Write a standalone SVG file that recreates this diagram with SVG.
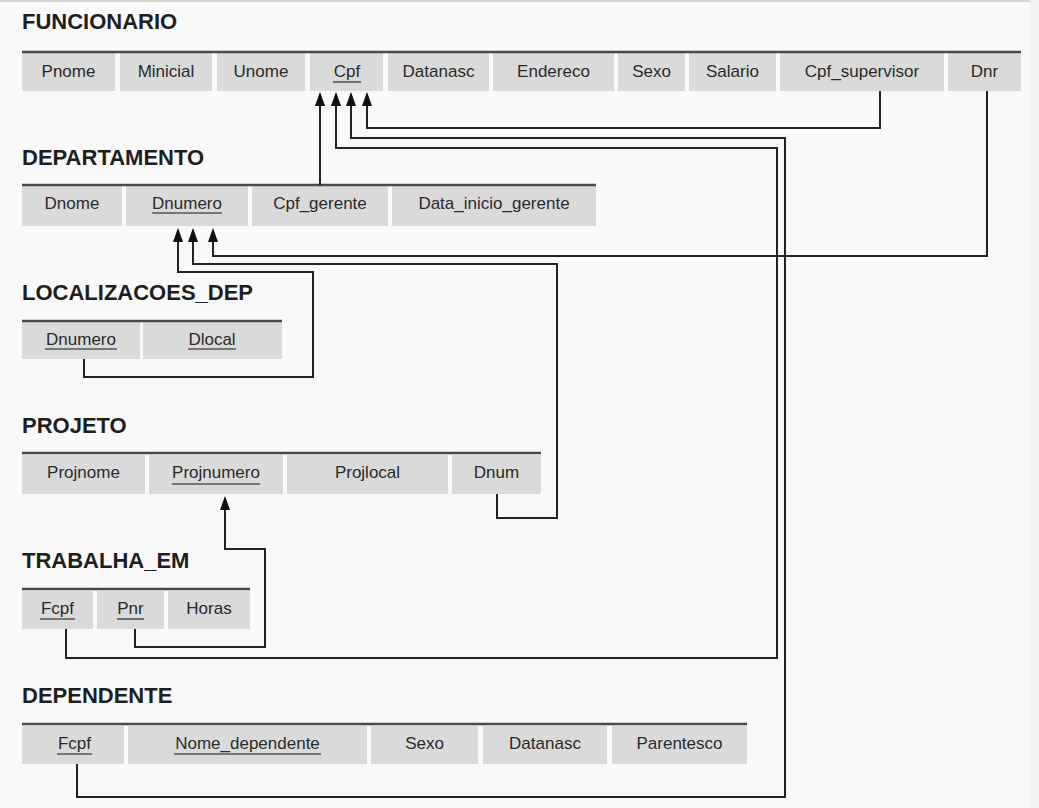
<svg xmlns="http://www.w3.org/2000/svg" width="1039" height="808" viewBox="0 0 1039 808">
<style>
.bg{fill:#f9f9f9}
.title{font-family:"Liberation Sans",Arial,Helvetica,sans-serif;font-weight:bold;font-size:22px;fill:#1e1e1e}
.cell{fill:#dadada}
.top{stroke:#4a4a4a;stroke-width:2.5}
.t{font-family:"Liberation Sans",Arial,Helvetica,sans-serif;font-size:17px;fill:#2a2a2a;text-anchor:middle}
.ul{stroke:#555;stroke-width:1.6}
.conn{fill:none;stroke:#222;stroke-width:2}
</style>
<defs>
<marker id="arr" markerUnits="userSpaceOnUse" viewBox="0 0 14 10" refX="12" refY="5" markerWidth="14" markerHeight="10" orient="auto">
<path d="M0,0 L14,5 L0,10 z" fill="#111"/>
</marker>
</defs>
<rect class="bg" x="0" y="0" width="1039" height="808"/>
<rect x="0" y="0" width="1039" height="2" fill="#d4d4d4"/>
<rect x="1030" y="0" width="9" height="808" fill="#f2f2f2"/>

<g id="funcionario">
<text class="title" x="22" y="29">FUNCIONARIO</text>
<rect class="cell" x="22" y="53" width="93" height="38"/>
<rect class="cell" x="120" y="53" width="92" height="38"/>
<rect class="cell" x="217" y="53" width="88" height="38"/>
<rect class="cell" x="310" y="53" width="73" height="38"/>
<rect class="cell" x="388" y="53" width="101" height="38"/>
<rect class="cell" x="493" y="53" width="121" height="38"/>
<rect class="cell" x="618" y="53" width="67" height="38"/>
<rect class="cell" x="689" y="53" width="87" height="38"/>
<rect class="cell" x="780" y="53" width="164" height="38"/>
<rect class="cell" x="948" y="53" width="73" height="38"/>
<line class="top" x1="22" y1="52" x2="1021" y2="52"/>
<text class="t" x="68.5" y="77">Pnome</text>
<text class="t" x="166" y="77">Minicial</text>
<text class="t" x="261" y="77">Unome</text>
<text class="t" x="347" y="77">Cpf</text>
<line class="ul" x1="333" y1="82" x2="361" y2="82"/>
<text class="t" x="438.5" y="77">Datanasc</text>
<text class="t" x="553.5" y="77">Endereco</text>
<text class="t" x="651.5" y="77">Sexo</text>
<text class="t" x="732.5" y="77">Salario</text>
<text class="t" x="862" y="77">Cpf_supervisor</text>
<text class="t" x="984.5" y="77">Dnr</text>
</g>

<g id="departamento">
<text class="title" x="22" y="165">DEPARTAMENTO</text>
<rect class="cell" x="22" y="186" width="100" height="40"/>
<rect class="cell" x="126" y="186" width="122" height="40"/>
<rect class="cell" x="252" y="186" width="136" height="40"/>
<rect class="cell" x="392" y="186" width="204" height="40"/>
<line class="top" x1="22" y1="185" x2="596" y2="185"/>
<text class="t" x="72" y="209">Dnome</text>
<text class="t" x="187" y="209">Dnumero</text>
<line class="ul" x1="152" y1="213" x2="222" y2="213"/>
<text class="t" x="320" y="209">Cpf_gerente</text>
<text class="t" x="494" y="209">Data_inicio_gerente</text>
</g>

<g id="localizacoes_dep">
<text class="title" x="22" y="300">LOCALIZACOES_DEP</text>
<rect class="cell" x="22" y="322" width="118" height="37"/>
<rect class="cell" x="143" y="322" width="139" height="37"/>
<line class="top" x1="22" y1="321" x2="282" y2="321"/>
<text class="t" x="81" y="345">Dnumero</text>
<line class="ul" x1="45" y1="349" x2="117" y2="349"/>
<text class="t" x="212" y="345">Dlocal</text>
<line class="ul" x1="188" y1="349" x2="236" y2="349"/>
</g>

<g id="projeto">
<text class="title" x="22" y="433">PROJETO</text>
<rect class="cell" x="22" y="455" width="123" height="39"/>
<rect class="cell" x="149" y="455" width="134" height="39"/>
<rect class="cell" x="287" y="455" width="161" height="39"/>
<rect class="cell" x="452" y="455" width="89" height="39"/>
<line class="top" x1="22" y1="453" x2="541" y2="453"/>
<text class="t" x="83.5" y="478">Projnome</text>
<text class="t" x="216" y="478">Projnumero</text>
<line class="ul" x1="172" y1="484" x2="260" y2="484"/>
<text class="t" x="367.5" y="478">Projlocal</text>
<text class="t" x="496.5" y="478">Dnum</text>
</g>

<g id="trabalha_em">
<text class="title" x="22" y="568">TRABALHA_EM</text>
<rect class="cell" x="22" y="591" width="71" height="38"/>
<rect class="cell" x="97" y="591" width="67" height="38"/>
<rect class="cell" x="168" y="591" width="82" height="38"/>
<line class="top" x1="22" y1="589" x2="250" y2="589"/>
<text class="t" x="57.5" y="614">Fcpf</text>
<line class="ul" x1="40" y1="619" x2="75" y2="619"/>
<text class="t" x="130.5" y="614">Pnr</text>
<line class="ul" x1="117" y1="619" x2="144" y2="619"/>
<text class="t" x="209" y="614">Horas</text>
</g>

<g id="dependente">
<text class="title" x="22" y="703">DEPENDENTE</text>
<rect class="cell" x="22" y="726" width="102" height="38"/>
<rect class="cell" x="128" y="726" width="239" height="38"/>
<rect class="cell" x="371" y="726" width="107" height="38"/>
<rect class="cell" x="483" y="726" width="124" height="38"/>
<rect class="cell" x="612" y="726" width="135" height="38"/>
<line class="top" x1="22" y1="724" x2="747" y2="724"/>
<text class="t" x="74.5" y="749">Fcpf</text>
<line class="ul" x1="57" y1="754" x2="92" y2="754"/>
<text class="t" x="247.5" y="749">Nome_dependente</text>
<line class="ul" x1="174" y1="754" x2="321" y2="754"/>
<text class="t" x="424.5" y="749">Sexo</text>
<text class="t" x="545" y="749">Datanasc</text>
<text class="t" x="679.5" y="749">Parentesco</text>
</g>

<g id="connectors">
<path class="conn" marker-end="url(#arr)" d="M320 185 V94"/>
<path class="conn" marker-end="url(#arr)" d="M66 629 V658 H777 V148 H336 V94"/>
<path class="conn" marker-end="url(#arr)" d="M77 764 V797 H785 V138 H351 V94"/>
<path class="conn" marker-end="url(#arr)" d="M880 91 V128 H367 V94"/>
<path class="conn" marker-end="url(#arr)" d="M987 91 V256 H213 V230"/>
<path class="conn" marker-end="url(#arr)" d="M497 494 V518 H557 V264 H193 V230"/>
<path class="conn" marker-end="url(#arr)" d="M84 359 V377 H313 V272 H178 V230"/>
<path class="conn" marker-end="url(#arr)" d="M135 629 V647 H265 V549 H225 V498"/>
</g>
</svg>
